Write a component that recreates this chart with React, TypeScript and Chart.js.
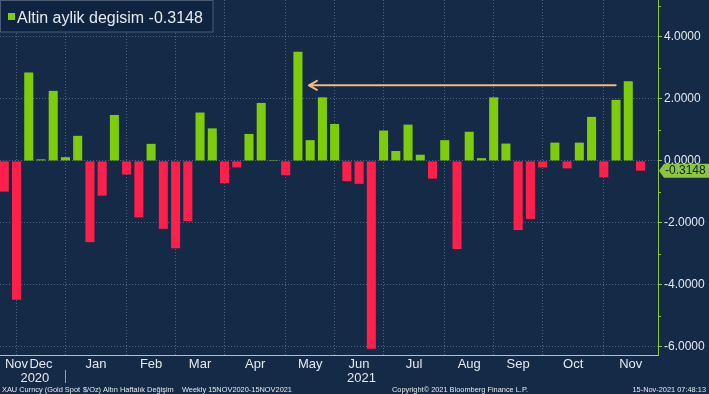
import React, { useEffect, useRef } from 'react';
import { Chart, registerables } from 'chart.js';

Chart.register(...registerables);

// ---------------- data ----------------
const SERIES_LABEL = 'Altin aylik degisim';
const WEEKLY_CHANGE = [
  -0.99, -4.48, 2.85, 0.05, 2.26, 0.12, 0.81, -2.62, -1.12, 1.48,
  -0.44, -1.82, 0.55, -2.19, -2.82, -1.94, 1.56, 1.05, -0.72, -0.21,
  0.87, 1.87, 0.03, -0.46, 3.52, 0.67, 2.05, 1.19, -0.65, -0.74,
  -6.06, 0.98, 0.32, 1.17, 0.2, -0.57, 0.67, -2.84, 0.94, 0.09,
  2.05, 0.56, -2.23, -1.87, -0.21, 0.59, -0.24, 0.59, 1.42, -0.53,
  1.97, 2.57, -0.3148,
];
const MONTH_LABELS = ['Nov', 'Dec', 'Jan', 'Feb', 'Mar', 'Apr', 'May', 'Jun', 'Jul', 'Aug', 'Sep', 'Oct', 'Nov'];
const MONTH_LABEL_AT = [1, 3, 7.5, 12, 16, 20.5, 25, 29, 33.5, 38, 42, 46.5, 51.2];
const MONTH_STARTS = [1, 5, 10, 14, 18, 23, 27, 31, 36, 40, 44, 49];
const YEAR_LABELS = ['2020', '2021'];
const YEAR_LABEL_AT = [2.5, 29.2];
const YEAR_BREAKS = [5];
const Y_TICKS = [-6, -4, -2, 0, 2, 4];
const Y_MINOR_TICKS = [-5, -3, -1, 1, 3, 5];
const ARROW_FROM = 49.97;
const ARROW_TO = 24.9;
const ARROW_LEVEL = 2.44;
const FOOTER_LEFT = ['XAU Curncy (Gold Spot', '$/Oz) Altın Haftalık Değişim', 'Weekly 15NOV2020-15NOV2021'];
const COPYRIGHT = 'Copyright© 2021 Bloomberg Finance L.P.';
const TIMESTAMP = '15-Nov-2021 07:48:13';

// ---------------- style ----------------
const BG = '#142a47';
const GREEN = '#7fcc0a';
const RED = '#ff1f4b';
const AXIS_GREEN = '#8cc63f';
const GRID = 'rgba(130,150,175,0.55)';
const TEXT = '#e4e9ef';
const FONT = '"Liberation Sans", Arial, sans-serif';

const decorPlugin = {
  id: 'decor',
  beforeDraw(chart: any) {
    const { ctx, width, height } = chart;
    ctx.save();
    ctx.fillStyle = BG;
    ctx.fillRect(0, 0, width, height);
    ctx.restore();
  },
  afterDatasetsDraw(chart: any) {
    const { ctx } = chart;
    const xs = chart.scales.x;
    const ys = chart.scales.y;
    const x1 = xs.getPixelForValue(ARROW_FROM);
    const x2 = xs.getPixelForValue(ARROW_TO);
    const y = ys.getPixelForValue(ARROW_LEVEL);
    ctx.save();
    ctx.strokeStyle = '#f4b87c';
    ctx.lineWidth = 2;
    ctx.lineCap = 'round';
    ctx.lineJoin = 'round';
    ctx.beginPath();
    ctx.moveTo(x1, y);
    ctx.lineTo(x2, y);
    ctx.moveTo(x2 + 8, y - 4.5);
    ctx.lineTo(x2, y);
    ctx.lineTo(x2 + 8, y + 4.5);
    ctx.stroke();
    ctx.restore();
  },
  afterDraw(chart: any) {
    const { ctx, chartArea } = chart;
    const xs = chart.scales.x;
    const ys = chart.scales.y;
    ctx.save();

    // minor ticks on the right axis
    ctx.strokeStyle = AXIS_GREEN;
    ctx.lineWidth = 1;
    Y_MINOR_TICKS.forEach((v) => {
      const y = Math.round(ys.getPixelForValue(v)) + 0.5;
      ctx.beginPath();
      ctx.moveTo(chartArea.right, y);
      ctx.lineTo(chartArea.right + 3, y);
      ctx.stroke();
    });

    // month labels
    ctx.fillStyle = TEXT;
    ctx.font = `13px ${FONT}`;
    ctx.textAlign = 'center';
    ctx.textBaseline = 'alphabetic';
    MONTH_LABELS.forEach((m, i) => {
      ctx.fillText(m, xs.getPixelForValue(MONTH_LABEL_AT[i]), 368);
    });
    YEAR_LABELS.forEach((yr, i) => {
      ctx.fillText(yr, xs.getPixelForValue(YEAR_LABEL_AT[i]), 382);
    });
    ctx.strokeStyle = 'rgba(200,210,220,0.7)';
    YEAR_BREAKS.forEach((b) => {
      const x = Math.round(xs.getPixelForValue(b)) + 0.5;
      ctx.beginPath();
      ctx.moveTo(x, 370);
      ctx.lineTo(x, 383);
      ctx.stroke();
    });

    // footer
    ctx.font = `7.4px ${FONT}`;
    ctx.textAlign = 'left';
    const fx = [2, 83, 182];
    FOOTER_LEFT.forEach((t, i) => ctx.fillText(t, fx[i], 392));
    ctx.fillText(COPYRIGHT, 392, 392);
    ctx.textAlign = 'right';
    ctx.fillText(TIMESTAMP, 706, 392);

    // last value box
    const last = WEEKLY_CHANGE[WEEKLY_CHANGE.length - 1];
    const ly = ys.getPixelForValue(last);
    const bx = chartArea.right + 1;
    ctx.fillStyle = AXIS_GREEN;
    ctx.beginPath();
    ctx.moveTo(bx, ly);
    ctx.lineTo(bx + 5, ly - 7);
    ctx.lineTo(chart.width, ly - 7);
    ctx.lineTo(chart.width, ly + 7);
    ctx.lineTo(bx + 5, ly + 7);
    ctx.closePath();
    ctx.fill();
    ctx.fillStyle = '#0d1f33';
    ctx.font = `12px ${FONT}`;
    ctx.textAlign = 'left';
    ctx.textBaseline = 'middle';
    ctx.fillText(last.toFixed(4), bx + 6, ly + 0.5);

    // legend box
    ctx.fillStyle = '#0f2440';
    ctx.fillRect(0, 0, 213, 32);
    ctx.strokeStyle = '#4a5c72';
    ctx.lineWidth = 1;
    ctx.strokeRect(0.5, 0.5, 212.5, 31.5);
    ctx.fillStyle = GREEN;
    ctx.fillRect(8, 13, 7, 7);
    ctx.fillStyle = TEXT;
    ctx.font = `16px ${FONT}`;
    ctx.textBaseline = 'alphabetic';
    ctx.fillText(`${SERIES_LABEL} ${last.toFixed(4)}`, 17, 23);

    ctx.restore();
  },
};

export default function App() {
  const ref = useRef<HTMLCanvasElement | null>(null);

  useEffect(() => {
    if (!ref.current) return;
    const chart = new Chart(ref.current, {
      type: 'bar',
      data: {
        datasets: [
          {
            label: SERIES_LABEL,
            data: WEEKLY_CHANGE.map((v, i) => ({ x: i, y: v })),
            backgroundColor: WEEKLY_CHANGE.map((v) => (v >= 0 ? GREEN : RED)),
            borderWidth: 0,
            barPercentage: 0.74,
            categoryPercentage: 1,
          },
        ],
      },
      options: {
        animation: false,
        responsive: false,
        devicePixelRatio: 1,
        layout: { padding: 0 },
        plugins: { legend: { display: false }, tooltip: { enabled: false } },
        scales: {
          x: {
            type: 'linear',
            min: -0.35,
            max: 53.43,
            offset: false,
            bounds: 'data',
            afterBuildTicks: (s: any) => {
              s.ticks = MONTH_STARTS.map((v) => ({ value: v }));
            },
            afterFit: (s: any) => {
              s.height = 39;
              s.paddingLeft = 0;
              s.paddingRight = 0;
            },
            ticks: { display: false },
            grid: { color: GRID, drawTicks: false, offset: false },
            border: { color: '#b4bcc6', width: 1, dash: [1, 2] },
          },
          y: {
            type: 'linear',
            position: 'right',
            min: -6.26,
            max: 5.19,
            bounds: 'data',
            afterBuildTicks: (s: any) => {
              s.ticks = Y_TICKS.map((v) => ({ value: v }));
            },
            afterFit: (s: any) => {
              s.width = 51;
              s.paddingTop = 0;
              s.paddingBottom = 0;
            },
            ticks: {
              color: TEXT,
              font: { family: FONT, size: 12 },
              padding: 2,
              callback: (v: any) => Number(v).toFixed(4),
            },
            grid: {
              color: GRID,
              drawTicks: true,
              tickLength: 4,
              tickColor: AXIS_GREEN,
              tickBorderDash: [],
            },
            border: { color: AXIS_GREEN, width: 1, dash: [1, 2] },
          },
        },
      },
      plugins: [decorPlugin],
    } as any);
    return () => chart.destroy();
  }, []);

  return (
    <div style={{ position: 'absolute', left: 0, top: 0, width: 709, height: 394, background: BG }}>
      <canvas ref={ref} width={709} height={394} style={{ display: 'block', width: 709, height: 394 }} />
    </div>
  );
}
